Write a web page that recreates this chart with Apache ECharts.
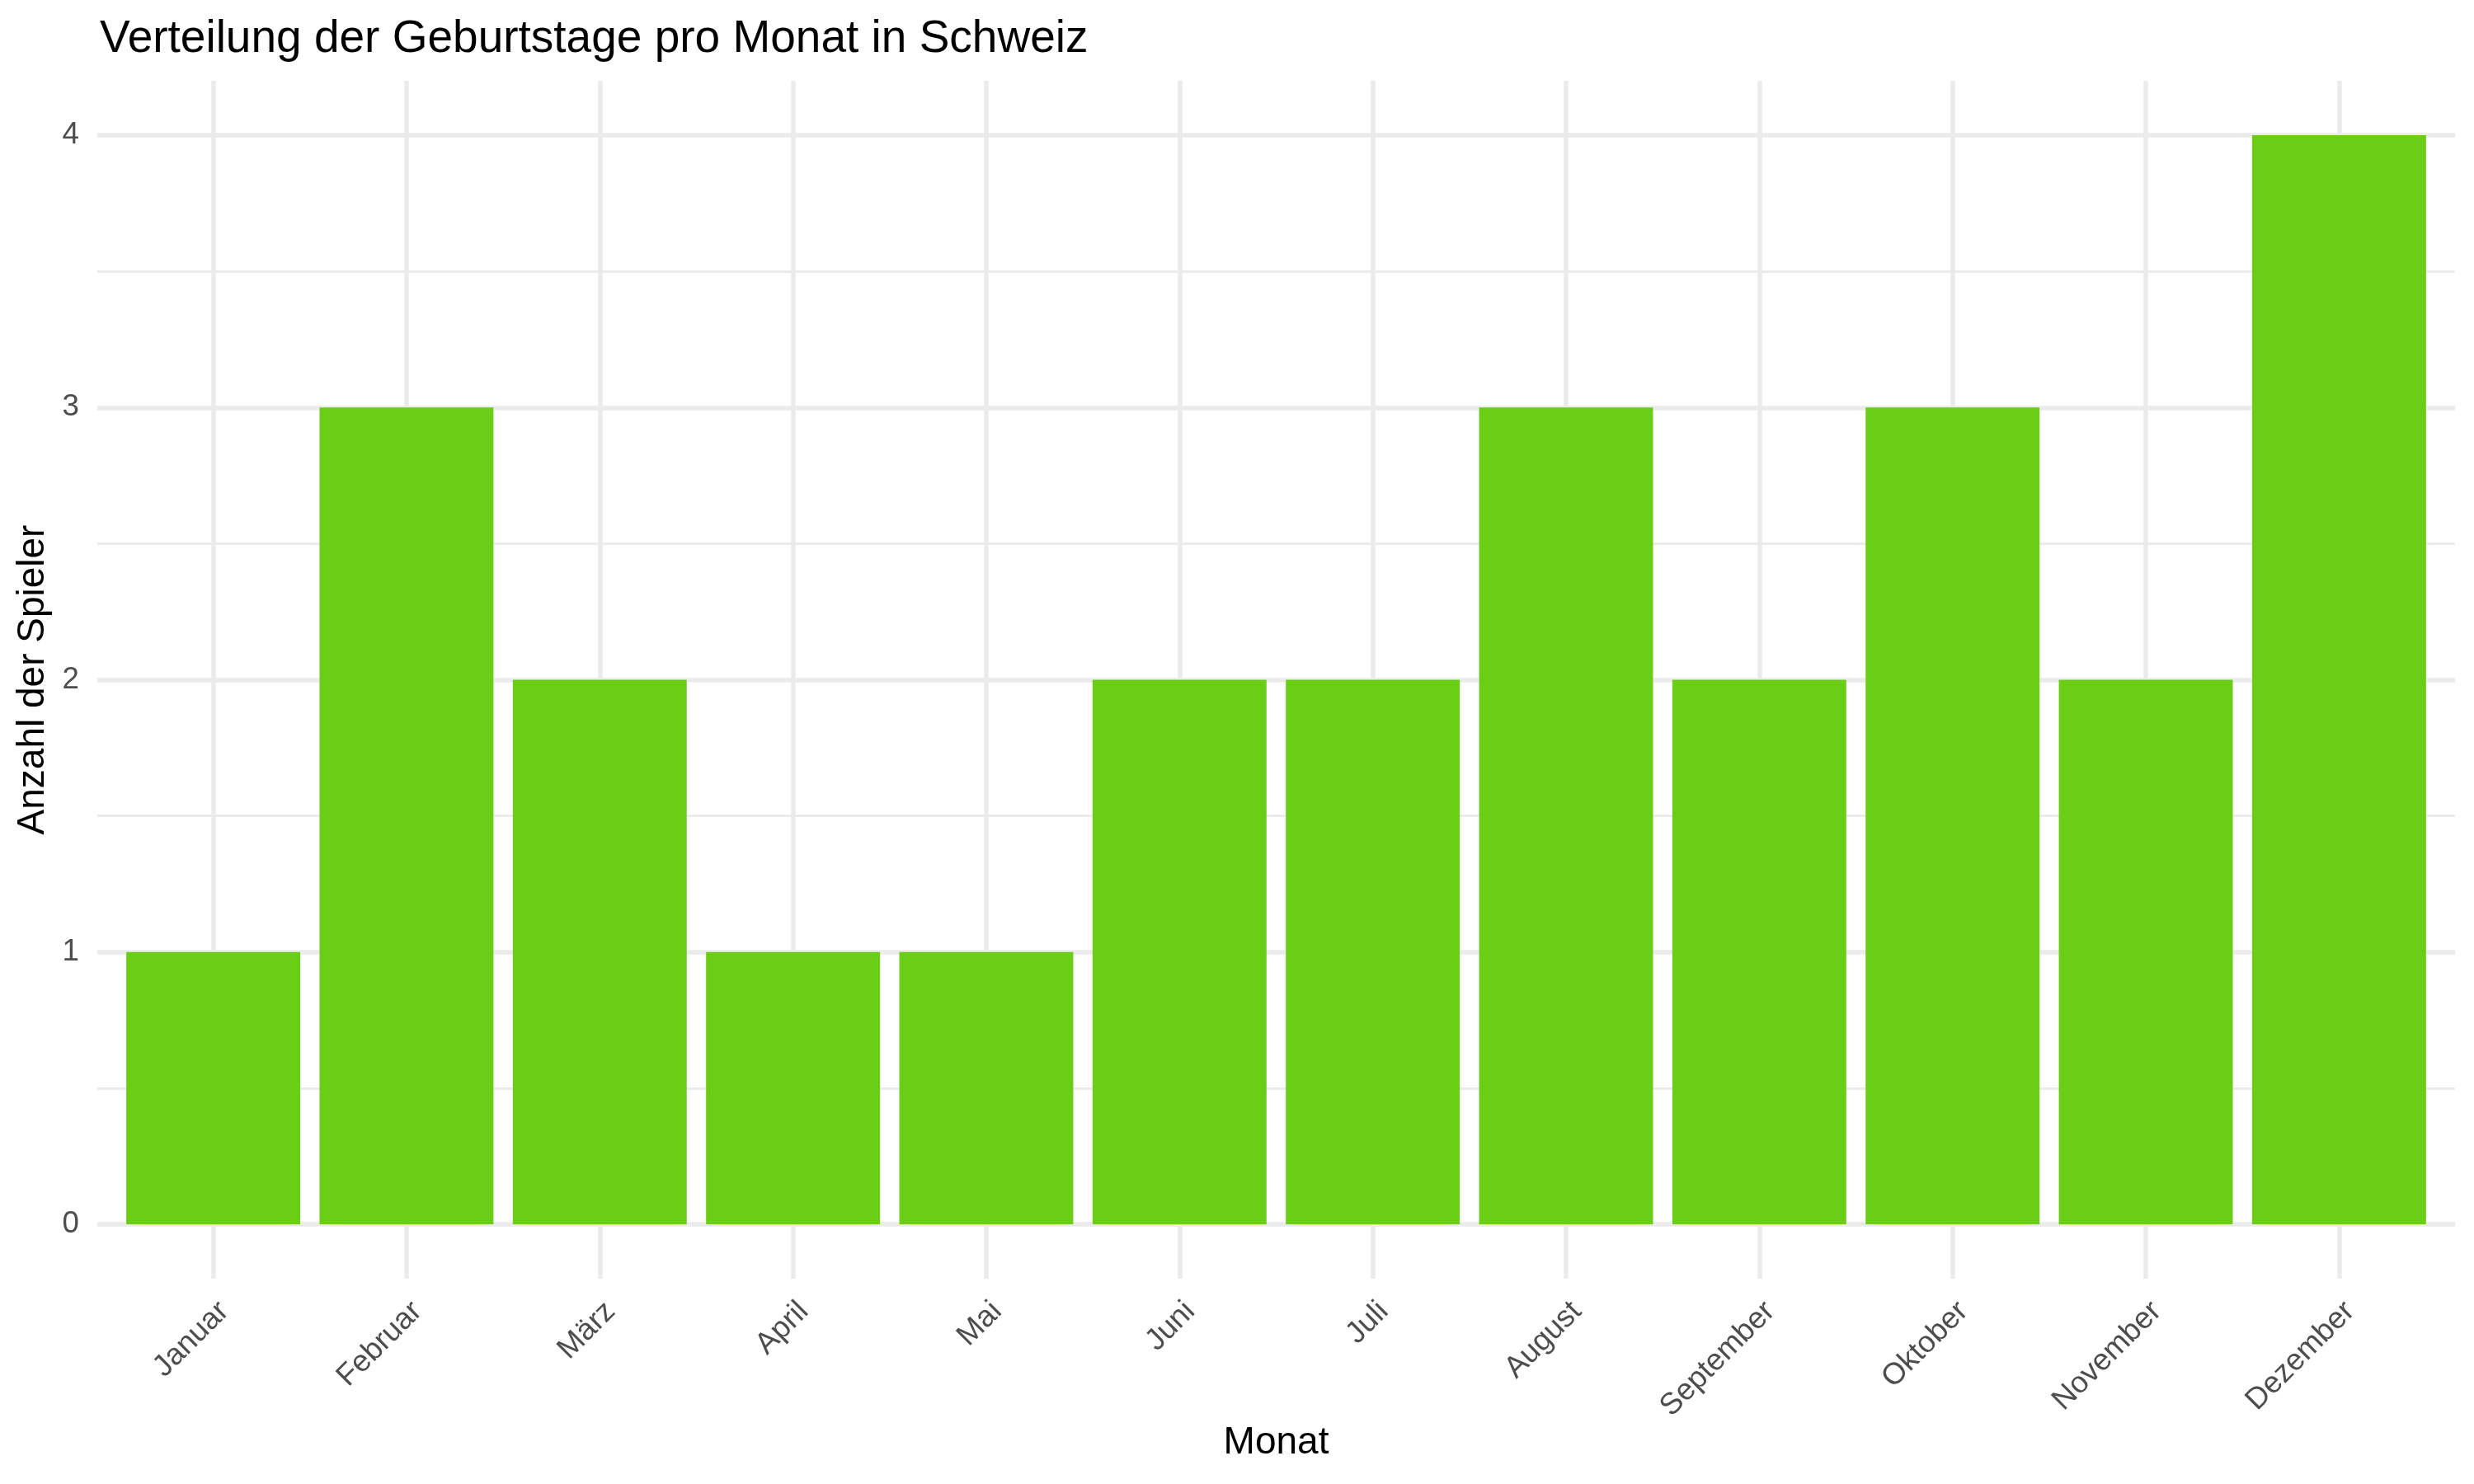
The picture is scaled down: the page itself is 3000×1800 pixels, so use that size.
<!DOCTYPE html>
<html>
<head>
<meta charset="utf-8">
<script src="https://cdn.jsdelivr.net/npm/echarts@6/dist/echarts.min.js"></script>
<style>
html,body{margin:0;padding:0;background:#fff;}
#chart{width:3000px;height:1800px;}
</style>
</head>
<body>
<div id="chart"></div>
<script>
const chartTitle = 'Verteilung der Geburtstage pro Monat in Schweiz';
const xTitle = 'Monat';
const yTitle = 'Anzahl der Spieler';
const months = ['Januar','Februar','März','April','Mai','Juni','Juli','August','September','Oktober','November','Dezember'];
const counts = [1,3,2,1,1,2,2,3,2,3,2,4];
const yTicks = [0,1,2,3,4];
const yMinorTicks = [0.5,1.5,2.5,3.5];

const W = 3000, H = 1800;
const gridLeft = 118, gridRight = 23, gridTop = 98, gridBottom = 249;
const plotW = W - gridLeft - gridRight;
const xMin = 0.4, xMax = months.length + 0.6;
const barW = 0.9 * plotW / (xMax - xMin);
const positions = months.map((m, i) => i + 1);
const font = "'Liberation Sans', Arial, Helvetica, sans-serif";
const gridColor = '#EBEBEB';

const chart = echarts.init(document.getElementById('chart'), null, {renderer: 'canvas'});
chart.setOption({
  animation: false,
  backgroundColor: '#ffffff',
  title: {
    text: chartTitle,
    left: gridLeft - 2,
    top: 15,
    textStyle: {fontFamily: font, fontSize: 55, fontWeight: 'normal', color: '#000000'}
  },
  grid: {left: gridLeft, right: gridRight, top: gridTop, bottom: gridBottom, containLabel: false},
  xAxis: {
    type: 'value',
    min: xMin,
    max: xMax,
    axisLine: {show: false},
    axisTick: {show: false, customValues: positions},
    splitLine: {show: true, lineStyle: {color: gridColor, width: 5.5}},
    axisLabel: {
      customValues: positions,
      formatter: v => months[Math.round(v) - 1] || '',
      rotate: 45,
      align: 'right',
      verticalAlign: 'top',
      margin: 21,
      fontFamily: font,
      fontSize: 36.7,
      color: '#4D4D4D'
    }
  },
  yAxis: [{
    type: 'value',
    min: -0.2,
    max: 4.2,
    axisLine: {show: false},
    axisTick: {show: false, customValues: yTicks},
    splitLine: {show: true, lineStyle: {color: gridColor, width: 5.5}},
    axisLabel: {
      customValues: yTicks,
      margin: 22,
      fontFamily: font,
      fontSize: 36.7,
      color: '#4D4D4D'
    }
  }, {
    type: 'value',
    min: -0.2,
    max: 4.2,
    position: 'left',
    axisLine: {show: false},
    axisTick: {show: false, customValues: yMinorTicks},
    axisLabel: {show: false, customValues: yMinorTicks},
    splitLine: {show: true, lineStyle: {color: gridColor, width: 2.8}}
  }],
  graphic: [{
    type: 'text',
    x: gridLeft + plotW / 2,
    y: 1750,
    style: {text: xTitle, font: '46px ' + font, fill: '#000000', align: 'center', verticalAlign: 'middle'}
  }, {
    type: 'text',
    x: 40,
    y: (gridTop + (H - gridBottom)) / 2,
    rotation: Math.PI / 2,
    style: {text: yTitle, font: '46px ' + font, fill: '#000000', align: 'center', verticalAlign: 'middle'}
  }],
  series: [{
    type: 'bar',
    yAxisIndex: 0,
    barWidth: barW,
    itemStyle: {color: '#6ACE17'},
    data: positions.map((p, i) => [p, counts[i]])
  }]
});
</script>
</body>
</html>
